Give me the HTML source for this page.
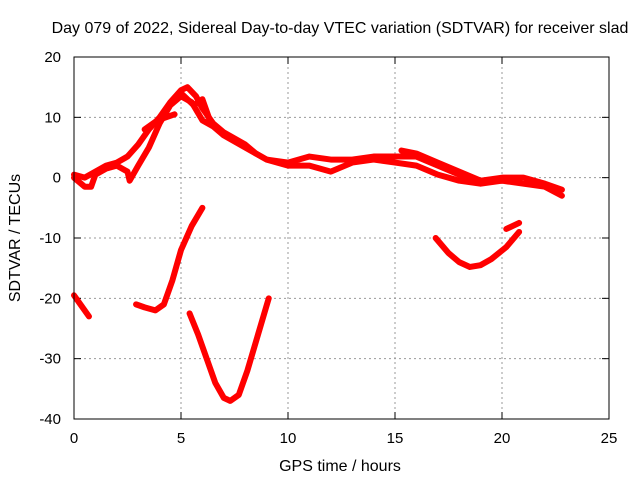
<!DOCTYPE html>
<html><head><meta charset="utf-8"><style>
body{margin:0;background:#fff;}
svg{font-family:"Liberation Sans",sans-serif;}
</style></head><body>
<svg id="chart" width="640" height="480" xmlns="http://www.w3.org/2000/svg">
<text x="340" y="33" font-size="16" text-anchor="middle">Day 079 of 2022, Sidereal Day-to-day VTEC variation (SDTVAR) for receiver slad</text>
<text x="340" y="471" font-size="16" text-anchor="middle">GPS time / hours</text>
<text transform="translate(20,238) rotate(-90)" font-size="16" text-anchor="middle">SDTVAR / TECUs</text>
<g id="grid"></g><g id="ticks"></g><g id="series"></g>
<rect x="74" y="57" width="535" height="362" fill="none" stroke="#000" stroke-width="1"/>
</svg>
<script>
const xTicks=[0,5,10,15,20,25];
const yTicks=[-40,-30,-20,-10,0,10,20];
const traceA=[[0,0.5],[0.5,0],[1,1],[1.5,2],[2,2.5],[2.5,3.5],[3,5.5],[3.5,8],[4,10],[4.5,12.5],[5,14.5],[5.3,15],[5.7,13.5],[6,11.5],[6.5,9],[7,7.5],[8,5.5],[8.5,4],[9,3],[10,2.5],[11,3.5],[12,3],[13,3],[14,3.5],[15,3.5],[16,3.5],[17,2],[18,0.5],[19,-0.5],[20,0],[21,0],[22,-1],[22.8,-2]];
const traceB=[[0,0],[0.5,-1.5],[0.8,-1.5],[1,0.5],[1.5,1.5],[2,2],[2.5,1],[2.6,-0.5],[3,2],[3.5,5],[4,9],[4.5,12],[5,13.5],[5.5,12.5],[6,9.5],[6.5,8.5],[7,7],[8,5],[9,3],[10,2],[11,2],[12,1],[13,2.5],[14,3],[15,2.5],[16,2],[17,0.5],[18,-0.5],[19,-1],[20,-0.5],[21,-1],[22,-1.5],[22.8,-3]];
const traceC=[[3.3,8],[3.9,9.5],[4.7,10.5]];
const traceD=[[5,14],[5.6,12],[6,13],[6.3,10]];
const traceE=[[15.3,4.5],[16,4],[17,2.5],[18,1],[19,-0.5],[20,-0.5]];
const arc1=[[0,-19.5],[0.3,-21],[0.7,-23]];
const arc2=[[2.9,-21],[3.3,-21.5],[3.8,-22],[4.2,-21],[4.6,-17],[5,-12],[5.5,-8],[6,-5]];
const arc3=[[5.4,-22.5],[5.8,-26],[6.2,-30],[6.6,-34],[7,-36.5],[7.3,-37],[7.7,-36],[8.1,-32],[8.6,-26],[9.1,-20]];
const arc4=[[16.9,-10],[17.5,-12.5],[18,-14],[18.5,-14.8],[19,-14.5],[19.5,-13.5],[20.2,-11.5],[20.8,-9]];
const arc5=[[20.2,-8.5],[20.8,-7.5]];
const X=h=>74+h*21.4, Y=v=>57+(20-v)*6.0333;
const NS='http://www.w3.org/2000/svg';
function mk(t,a,p){const e=document.createElementNS(NS,t);for(const k in a)e.setAttribute(k,a[k]);p.appendChild(e);return e;}
const grid=document.getElementById('grid'),ticks=document.getElementById('ticks'),ser=document.getElementById('series');
xTicks.forEach(t=>{
 if(t>0&&t<25){const l=mk('line',{x1:X(t),x2:X(t),y1:57,y2:419,stroke:'#999','stroke-dasharray':'2,3'},grid);
 
 }
 mk('line',{x1:X(t),x2:X(t),y1:419,y2:412,stroke:'#000'},ticks);
 mk('line',{x1:X(t),x2:X(t),y1:57,y2:64,stroke:'#000'},ticks);
 const tx=mk('text',{x:X(t),y:443,'font-size':15,'text-anchor':'middle'},ticks);tx.textContent=t;
 
 
});
yTicks.forEach(t=>{
 if(t>-40&&t<20){const l=mk('line',{x1:74,x2:609,y1:Y(t),y2:Y(t),stroke:'#999','stroke-dasharray':'2,3'},grid);
 
 }
 mk('line',{x1:74,x2:81,y1:Y(t),y2:Y(t),stroke:'#000'},ticks);
 mk('line',{x1:609,x2:602,y1:Y(t),y2:Y(t),stroke:'#000'},ticks);
 const tx=mk('text',{x:61,y:Y(t)+5,'font-size':15,'text-anchor':'end'},ticks);tx.textContent=t;
 
 
});
[traceA,traceB,traceC,traceD,traceE,arc1,arc2,arc3,arc4,arc5].forEach((s,i)=>{
 const p=mk('polyline',{points:s.map(d=>X(d[0])+','+Y(d[1])).join(' '),fill:'none',stroke:'#f00','stroke-width':6,'stroke-linejoin':'round','stroke-linecap':'round'},ser);
 
 
});
</script>
</body></html>
